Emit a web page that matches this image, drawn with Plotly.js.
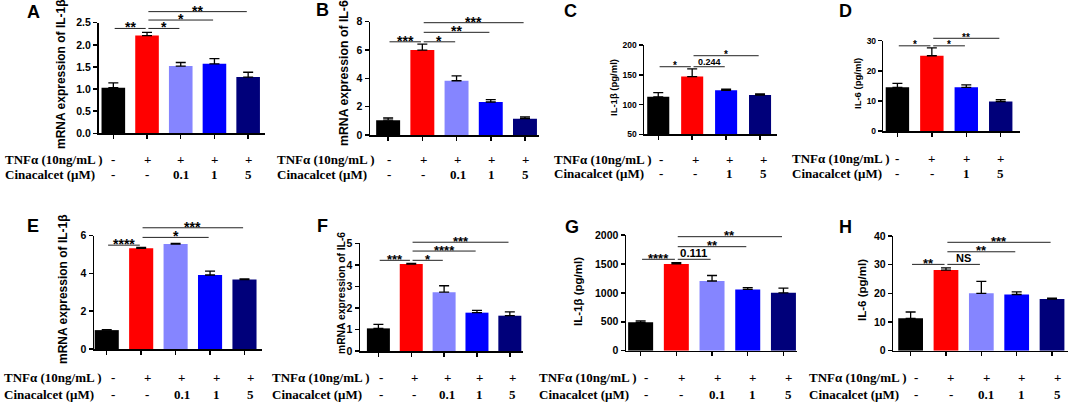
<!DOCTYPE html>
<html><head><meta charset="utf-8">
<script src="https://cdn.plot.ly/plotly-3.0.1.min.js"></script>
<style>html,body{margin:0;padding:0;background:#fff}#chart{width:1072px;height:404px}</style>
</head><body><div id="chart"></div>
<script>
// ---- data ----
const groups5 = ['Control', 'TNFα', 'TNFα+Cin 0.1', 'TNFα+Cin 1', 'TNFα+Cin 5'];
const groups4 = ['Control', 'TNFα', 'TNFα+Cin 1', 'TNFα+Cin 5'];
const colors5 = ['#000000', '#ff0000', '#8585ff', '#0000ff', '#00007a'];
const colors4 = ['#000000', '#ff0000', '#0000ff', '#00007a'];

const valsA = [1.03, 2.21, 1.52, 1.57, 1.27];
const errA  = [0.11, 0.07, 0.08, 0.12, 0.11];
const valsB = [1.05, 6.0, 3.83, 2.33, 1.15];
const errB  = [0.15, 0.42, 0.35, 0.17, 0.12];
const valsC = [113, 147, 124, 116];
const errC  = [7, 13, 2, 2];
const valsD = [14.5, 25.0, 14.5, 9.8];
const errD  = [1.3, 2.6, 0.8, 0.6];
const valsE = [1.0, 5.33, 5.56, 3.92, 3.68];
const errE  = [0.02, 0.05, 0.03, 0.2, 0.03];
const valsF = [1.05, 4.04, 2.73, 1.78, 1.64];
const errF  = [0.19, 0.03, 0.3, 0.11, 0.18];
const valsG = [490, 1500, 1205, 1060, 1000];
const errG  = [25, 22, 95, 30, 80];
const valsH = [11.3, 28.1, 20.0, 19.6, 18.0];
const errH  = [2.2, 0.8, 4.2, 0.9, 0.3];

const rowLabels = ['TNFα (10ng/mL )', 'Cinacalcet (μM)'];
const tnfRow5 = ['-', '+', '+', '+', '+'];
const cinRow5 = ['-', '-', '0.1', '1', '5'];
const tnfRow4 = ['-', '+', '+', '+'];
const cinRow4 = ['-', '-', '1', '5'];

const titleA = 'mRNA expression of IL-1β', titleB = 'mRNA expression of IL-6';
const titleC = 'IL-1β (pg/ml)', titleD = 'IL-6 (pg/ml)';

// significance brackets: [from, to, label, height]
const sigA = [[0, 1, '**', 2.37], [1, 2, '*', 2.37], [1, 3, '*', 2.56], [1, 4, '**', 2.75]];
const sigB = [[0, 1, '***', 6.58], [1, 2, '*', 6.58], [1, 3, '**', 7.25], [1, 4, '***', 7.93]];
const sigC = [[0, 1, '*', 163.5], [1, 2, '0.244', 163.5], [1, 3, '*', 182]];
const sigD = [[0, 1, '*', 28.3], [1, 2, '*', 28.3], [1, 3, '**', 30.8]];
const sigE = [[0, 1, '****', 5.5], [1, 3, '*', 5.91], [1, 4, '***', 6.42]];
const sigF = [[0, 1, '***', 4.21], [1, 2, '*', 4.21], [1, 3, '****', 4.64], [1, 4, '***', 5.05]];
const sigG = [[0, 1, '****', 1580], [1, 2, '0.111', 1580], [1, 3, '**', 1798], [1, 4, '**', 1971]];
const sigH = [[0, 1, '**', 30.1], [1, 2, 'NS', 30.1], [1, 3, '**', 34.5], [1, 4, '***', 37.8]];

// ---- layout (pixel geometry) ----
const W = 1072, H = 404;
const X = p => p / W;
const Y = p => 1 - p / H;

const panels = [
  {L:'A', cats:groups5, vals:valsA, errs:errA, colors:colors5, tnf:tnfRow5, cin:cinRow5, sig:sigA, yt:titleA,
   box:[98.5,265,22.7,133.3], xr:[-0.44,4.5], yr:[0,2.5], dt:0.5, fmt:'.1f', let:[33,11.5], ytp:[61,74,12],
   rowX:3, rowY:[159.3,174.3], ms:0, tick:10.5, star:14, txt:10, bw:0.7},
  {L:'B', cats:groups5, vals:valsB, errs:errB, colors:colors5, tnf:tnfRow5, cin:cinRow5, sig:sigB, yt:titleB,
   box:[370,539,21.7,135], xr:[-0.53,4.41], yr:[0,8], dt:2, fmt:'', let:[322.5,10], ytp:[344,73,12.3],
   rowX:275, rowY:[159.3,174.3], ms:1, tick:10.5, star:14, txt:10, bw:0.7},
  {L:'C', cats:groups4, vals:valsC, errs:errC, colors:colors4, tnf:tnfRow4, cin:cinRow4, sig:sigC, yt:titleC,
   box:[644,777,45,134.3], xr:[-0.42,3.5], yr:[50,200], dt:50, fmt:'', let:[570,11], ytp:[614,88,9.5],
   rowX:552, rowY:[159,174], ms:3, tick:8.5, star:10, txt:9, bw:0.65},
  {L:'D', cats:groups4, vals:valsD, errs:errD, colors:colors4, tnf:tnfRow4, cin:cinRow4, sig:sigD, yt:titleD,
   box:[883.3,1020,40.7,131], xr:[-0.41,3.56], yr:[0,30], dt:10, fmt:'', let:[845,11], ytp:[858,84,9.5],
   rowX:790, rowY:[158.5,174], ms:0, tick:8.5, star:10, txt:9, bw:0.68},
  {L:'E', cats:groups5, vals:valsE, errs:errE, colors:colors5, tnf:tnfRow5, cin:cinRow5, sig:sigE, yt:titleA,
   box:[94,261.7,235.7,349], xr:[-0.37,4.5], yr:[0,6], dt:2, fmt:'', let:[32.5,225.5], ytp:[63,289,12],
   rowX:2, rowY:[377.7,394.3], ms:6, tick:10.5, star:14, txt:10, bw:0.7},
  {L:'F', cats:groups5, vals:valsF, errs:errF, colors:colors5, tnf:tnfRow5, cin:cinRow5, sig:sigF, yt:titleB,
   box:[360,523.3,243.3,351], xr:[-0.56,4.41], yr:[0,5], dt:1, fmt:'', let:[322.5,225.5], ytp:[341,293,10.3],
   rowX:270, rowY:[377.7,394.3], ms:3, tick:10.5, star:13, txt:10, bw:0.7},
  {L:'G', cats:groups5, vals:valsG, errs:errG, colors:colors5, tnf:tnfRow5, cin:cinRow5, sig:sigG, yt:titleC,
   box:[626,797,235,350.7], xr:[-0.41,4.38], yr:[0,2000], dt:500, fmt:'', let:[571.5,226.5], ytp:[578,292,11.5],
   rowX:537, rowY:[377.7,394.3], ms:5, tick:10.5, star:13, txt:11.5, bw:0.7},
  {L:'H', cats:groups5, vals:valsH, errs:errH, colors:colors5, tnf:tnfRow5, cin:cinRow5, sig:sigH, yt:titleD,
   box:[893.3,1068.3,236,350.7], xr:[-0.49,4.46], yr:[0,40], dt:10, fmt:'', let:[845,226.5], ytp:[862,290,11.5],
   rowX:807, rowY:[377.7,394.3], ms:5, tick:10.5, star:13, txt:11, bw:0.7}
];

const SANS = 'Liberation Sans, Arial, sans-serif';
const SERIF = 'Liberation Serif, Times New Roman, serif';
const traces = [], shapes = [], annotations = [];
const layout = {width: W, height: H, margin: {l:0, r:0, t:0, b:0}, paper_bgcolor: '#fff',
  plot_bgcolor: 'rgba(0,0,0,0)', showlegend: false, shapes, annotations};

panels.forEach((p, k) => {
  const n = k === 0 ? '' : String(k + 1);
  const xr = 'x' + n, yr = 'y' + n;
  const yd0 = Y(p.box[3]), yd1 = Y(p.box[2]);
  const vy = v => yd0 + (v - p.yr[0]) / (p.yr[1] - p.yr[0]) * (yd1 - yd0);

  traces.push({type: 'bar', x: p.cats, y: p.vals, xaxis: xr, yaxis: yr, width: p.bw,
    marker: {color: p.colors, line: {width: 0}},
    error_y: {type: 'data', symmetric: false, array: p.errs, arrayminus: p.errs.map(() => 0),
      color: '#000', thickness: 1.3, width: 5},
    hoverinfo: 'skip', showlegend: false});

  layout['xaxis' + n] = {domain: [X(p.box[0]), X(p.box[1])], anchor: yr, type: 'category',
    categoryorder: 'array', categoryarray: p.cats, range: p.xr,
    showline: true, linecolor: '#000', linewidth: 1.5, ticks: 'outside', ticklen: 4, tickwidth: 1.5,
    tickcolor: '#000', tickmode: 'array', tickvals: p.cats, showticklabels: false,
    showgrid: false, zeroline: false, fixedrange: true};
  layout['yaxis' + n] = {domain: [yd0, yd1], anchor: xr, range: p.yr, tick0: p.yr[0], dtick: p.dt,
    tickformat: p.fmt, showline: true, linecolor: '#000', linewidth: 1.5, ticks: 'outside', ticklen: 4,
    tickwidth: 1.5, tickcolor: '#000', showgrid: false, zeroline: false, fixedrange: true,
    ticklabeloverflow: 'allow', showticklabels: true,
    tickfont: {family: SANS, size: p.tick, color: '#000', weight: 'bold'}};

  // panel letter
  annotations.push({xref: 'paper', yref: 'paper', x: X(p.let[0]), y: Y(p.let[1]), text: p.L,
    showarrow: false, xanchor: 'center', yanchor: 'middle',
    font: {family: SANS, size: 18, color: '#000', weight: 'bold'}});
  // y title
  annotations.push({xref: 'paper', yref: 'paper', x: X(p.ytp[0]), y: Y(p.ytp[1]), text: p.yt,
    textangle: -90, showarrow: false, xanchor: 'center', yanchor: 'middle',
    font: {family: SANS, size: p.ytp[2], color: '#000', weight: 'bold'}});
  // brackets
  p.sig.forEach(([a, b, lab, h]) => {
    shapes.push({type: 'line', xref: xr, yref: 'paper', x0: a + 0.04, x1: b - 0.04, y0: vy(h), y1: vy(h),
      line: {color: '#222', width: 1}});
    const star = lab.indexOf('*') >= 0;
    annotations.push({xref: xr, yref: 'paper', x: (a + b) / 2, y: vy(h), text: lab, showarrow: false,
      xanchor: 'center', yanchor: star ? 'middle' : 'bottom', yshift: star ? 1 : -2,
      font: {family: SANS, size: star ? p.star : p.txt, color: '#000', weight: 'bold'}});
  });
  // treatment rows
  const rowFont = {family: SERIF, size: 13, color: '#000', weight: 'bold'};
  rowLabels.forEach((t, r) => annotations.push({xref: 'paper', yref: 'paper', x: X(p.rowX), y: Y(p.rowY[r]),
    text: t, showarrow: false, xanchor: 'left', yanchor: 'middle', font: rowFont}));
  [p.tnf, p.cin].forEach((row, r) => row.forEach((t, i) => annotations.push({xref: xr, yref: 'paper',
    x: i, y: Y(p.rowY[r]), xshift: p.ms, text: t, showarrow: false, xanchor: 'center', yanchor: 'middle',
    font: rowFont})));
});

Plotly.newPlot('chart', traces, layout, {staticPlot: true, displayModeBar: false});
</script></body></html>
